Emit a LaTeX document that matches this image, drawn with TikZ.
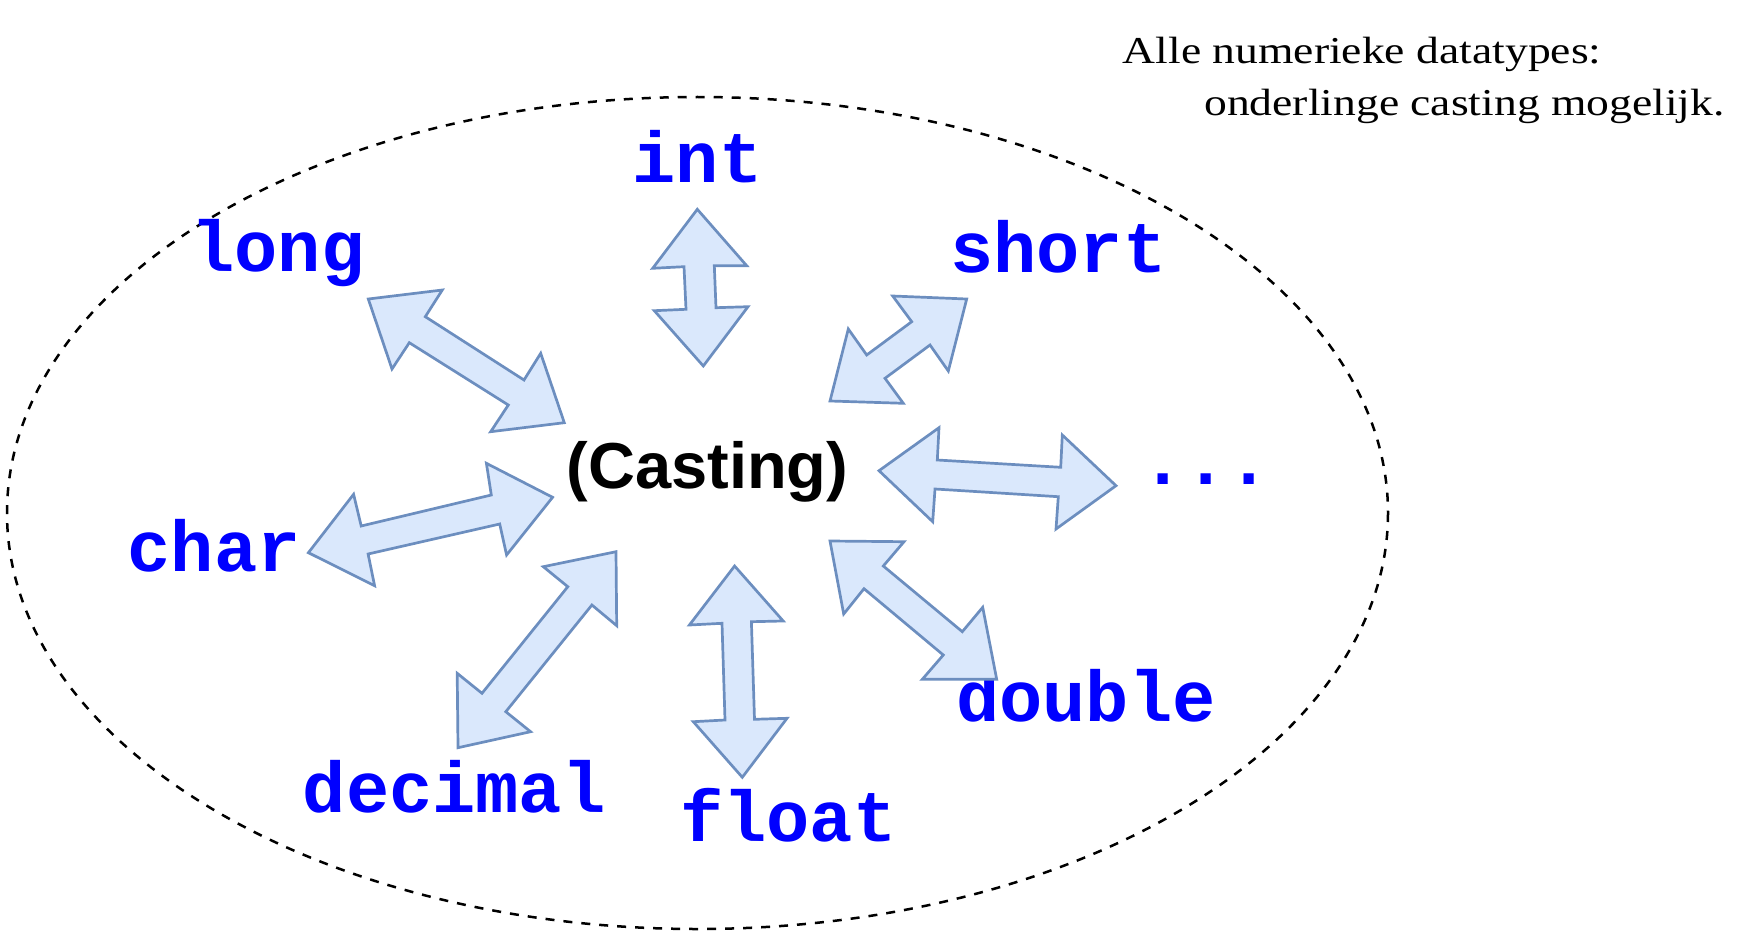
\documentclass[tikz,border=0pt]{standalone}
\usepackage{fontspec}
\setmainfont{Liberation Serif}
\newfontfamily\notefont[FakeStretch=1.2]{Liberation Serif}
\newfontfamily\codefont{Liberation Mono}
\newfontfamily\castfont{Liberation Sans}
\definecolor{arrowfill}{HTML}{DAE8FC}
\definecolor{arrowline}{HTML}{6C8EBF}
\definecolor{codeblue}{RGB}{0,0,255}
\tikzset{
  blockarrow/.style={fill=arrowfill, draw=arrowline, line width=2.7pt, line join=miter},
  typelabel/.style={anchor=base, inner sep=0pt, text=codeblue, font=\codefont\bfseries\fontsize{72}{72}\selectfont},
  castlabel/.style={anchor=base, inner sep=0pt, font=\castfont\bfseries\fontsize{65}{65}\selectfont},
  notelabel/.style={anchor=base west, inner sep=0pt, font=\notefont\fontsize{38}{44}\selectfont},
  borderline/.style={draw=black, line width=2.5pt, dash pattern=on 9pt off 9pt}
}
\begin{document}
\begin{tikzpicture}[x=1pt,y=-1pt]
\useasboundingbox (0,0) rectangle (1755,939);
% dashed ellipse
\draw[borderline] (697.5,513) ellipse [x radius=690.5, y radius=416];
% note
\node[notelabel] (note1) at (1122.6,64) {Alle numerieke datatypes:};
\node[notelabel] (note2) at (1204,116) {onderlinge casting mogelijk.};
% centre
\node[castlabel] (cast) at (707.5,488) {(Casting)};
% type labels
\node[typelabel] (int) at (697.5,182.7) {int};
\node[typelabel] (long) at (278,271.7) {long};
\node[typelabel] (short) at (1058.3,272.7) {short};
\node[typelabel] (char) at (214.2,571.7) {char};
\node[typelabel] (dots) at (1206,484) {...};
\node[typelabel] (decimal) at (454.1,812.7) {decimal};
\node[typelabel] (float) at (788.4,841.7) {float};
\node[typelabel] (double) at (1085.9,721.7) {double};
% block arrows
\draw[blockarrow] (697.3,209.3) -- (746.7,265.7) -- (714.3,265.7) -- (716,307.7) -- (748,306.7) -- (703.3,366) -- (654.3,310.7) -- (686,309.3) -- (684,266.7) -- (652.7,268.3) -- cycle;
\draw[blockarrow] (368.3,299) -- (442.3,290) -- (425.3,316.7) -- (524,380) -- (540.7,353.3) -- (564.3,422.7) -- (490.7,431.7) -- (508.3,405) -- (409.3,342.7) -- (392,369) -- cycle;
\draw[blockarrow] (966.7,299) -- (948.3,371) -- (930,345) -- (885,378.3) -- (903.3,403.3) -- (830,401) -- (848.3,329) -- (866.7,355) -- (911.7,321.7) -- (892.7,296) -- cycle;
\draw[blockarrow] (308.4,552.7) -- (353.6,494.3) -- (361.2,526) -- (491.3,495) -- (486.4,463.3) -- (552.6,497.3) -- (506.6,555) -- (499.7,524) -- (368.1,554) -- (374.6,585.7) -- cycle;
\draw[blockarrow] (879,470.7) -- (939,427.7) -- (937.3,460) -- (1060.7,467.3) -- (1062.3,435) -- (1116,485.7) -- (1056,529) -- (1058.3,496.7) -- (935,489) -- (932.7,521.7) -- cycle;
\draw[blockarrow] (616,551.7) -- (616.7,625.7) -- (591.9,605) -- (505.8,711.7) -- (530.6,731.7) -- (458,747.7) -- (457.2,673.3) -- (482,693.3) -- (567.8,586.7) -- (543.3,566.7) -- cycle;
\draw[blockarrow] (734.6,566) -- (783.2,621) -- (751.4,621.7) -- (754.5,719.3) -- (787,718.3) -- (742.3,777.3) -- (693.3,721.7) -- (725,720) -- (722,623.3) -- (689.4,625) -- cycle;
\draw[blockarrow] (830,541) -- (904,541.7) -- (883.3,566) -- (962.3,631.7) -- (982.7,607.3) -- (996.7,679.3) -- (922.3,679.3) -- (943.3,655) -- (864,588.7) -- (843.7,614) -- cycle;
\end{tikzpicture}
\end{document}
